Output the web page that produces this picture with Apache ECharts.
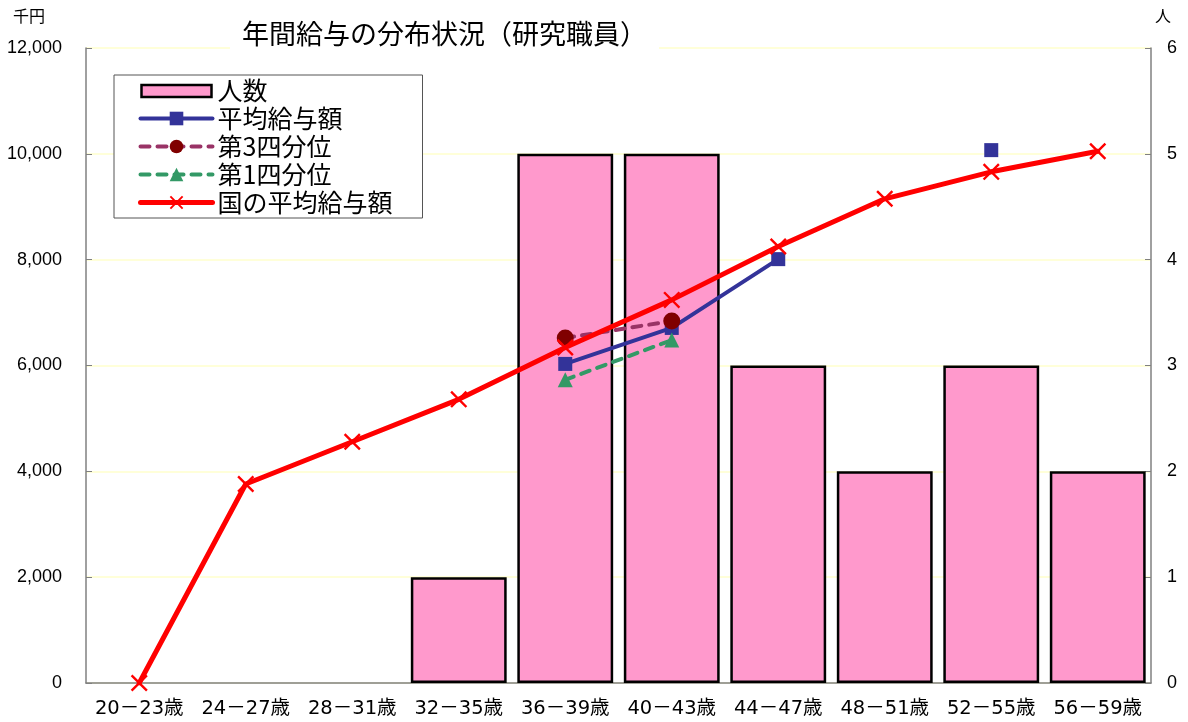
<!DOCTYPE html>
<html><head><meta charset="utf-8">
<script src="https://cdn.jsdelivr.net/npm/echarts@6/dist/echarts.min.js"></script>
<style>html,body{margin:0;padding:0;background:#fff}#c{width:1188px;height:722px}</style>
</head><body><div id="c"></div>
<script>
const categories = ['20－23歳','24－27歳','28－31歳','32－35歳','36－39歳','40－43歳','44－47歳','48－51歳','52－55歳','56－59歳'];
const headcount = [0,0,0,1,5,5,3,2,3,2];
const avgSalary = [null,null,null,null,6030,6710,8010,null,10070,null];
const q3Salary = [null,null,null,null,6520,6840,null,null,null,null];
const q1Salary = [null,null,null,null,5730,6480,null,null,null,null];
const nationalAvg = [0,3760,4560,5360,6340,7240,8250,9150,9660,10050];
const leftTicks = {min:0,max:12000,interval:2000};
const rightTicks = {min:0,max:6,interval:1};

const FONT = "'Liberation Sans','Noto Sans CJK JP',sans-serif";
const XFONT = "'DejaVu Sans','Noto Sans CJK JP',sans-serif";
const JFONT = "'Noto Sans CJK JP',sans-serif";
const X_PATH = 'path://M0,1L1,0L5,4L9,0L10,1L6,5L10,9L9,10L5,6L1,10L0,9L4,5Z';
const BAR_ICON = 'path://M0,0M72,17M1,3L71,3L71,15L1,15Z';

const chart = echarts.init(document.getElementById('c'), null, {renderer:'canvas'});
chart.setOption({
  animation:false,
  backgroundColor:'#fff',
  title:{
    text:'年間給与の分布状況（研究職員）',
    left:230, top:18,
    padding:[2,12,4,12],
    backgroundColor:'#fff',
    textStyle:{fontFamily:JFONT,fontSize:27,fontWeight:'normal',color:'#000'}
  },
  graphic:[
    {type:'text',left:13,top:8,style:{text:'千円',font:"16px "+JFONT,fill:'#000'}},
    {type:'text',left:1155,top:8,style:{text:'人',font:"16px "+JFONT,fill:'#000'}}
  ],
  legend:{
    orient:'vertical',
    left:114, top:75,
    padding:[3,30,3,24],
    itemGap:3,
    itemWidth:72, itemHeight:17,
    backgroundColor:'#fff',
    borderColor:'#555', borderWidth:1,
    textStyle:{fontFamily:JFONT,fontSize:25,color:'#000',lineHeight:25},
    data:[
      {name:'人数',icon:BAR_ICON,itemStyle:{color:'#ff99cc',borderColor:'#000',borderWidth:2.5}},
      {name:'平均給与額',lineStyle:{width:4}},
      {name:'第3四分位',lineStyle:{width:4}},
      {name:'第1四分位',lineStyle:{width:4}},
      {name:'国の平均給与額',lineStyle:{width:5}}
    ]
  },
  grid:{left:86,right:37,top:48,bottom:39,containLabel:false},
  xAxis:{
    type:'category',
    data:categories,
    boundaryGap:true,
    axisLine:{lineStyle:{color:'#808080',width:1.5}},
    axisTick:{inside:true,length:5,lineStyle:{color:'#808080'}},
    axisLabel:{interval:0,margin:16,fontFamily:XFONT,fontSize:19.5,color:'#000'}
  },
  yAxis:[
    {type:'value',min:leftTicks.min,max:leftTicks.max,interval:leftTicks.interval,position:'left',
     axisLine:{show:true,lineStyle:{color:'#808080',width:1.5}},
     axisTick:{show:true,inside:true,length:6,lineStyle:{color:'#808080'}},
     splitLine:{show:true,lineStyle:{color:'#ffffcc',width:1.5}},
     axisLabel:{margin:24,fontFamily:FONT,fontSize:18,color:'#000',
       formatter:v=>v.toLocaleString('en-US')}},
    {type:'value',min:rightTicks.min,max:rightTicks.max,interval:rightTicks.interval,position:'right',
     axisLine:{show:true,lineStyle:{color:'#808080',width:1.5}},
     axisTick:{show:true,inside:true,length:6,lineStyle:{color:'#808080'}},
     splitLine:{show:false},
     axisLabel:{margin:16,fontFamily:FONT,fontSize:18,color:'#000'}}
  ],
  series:[
    {name:'人数',type:'bar',yAxisIndex:1,data:headcount.map(v=>v===0?null:v),barCategoryGap:'10%',
     itemStyle:{color:'#ff99cc',borderColor:'#000',borderWidth:2.5},z:1},
    {name:'平均給与額',type:'line',data:avgSalary,connectNulls:false,
     symbol:'rect',symbolSize:14,showSymbol:true,
     lineStyle:{color:'#333399',width:4,cap:'round'},itemStyle:{color:'#333399'},z:3},
    {name:'第3四分位',type:'line',data:q3Salary,connectNulls:false,
     symbol:'circle',symbolSize:17,
     lineStyle:{color:'#993366',width:4,type:[9,8],cap:'round'},itemStyle:{color:'#800000'},z:4},
    {name:'第1四分位',type:'line',data:q1Salary,connectNulls:false,
     symbol:'triangle',symbolSize:15,
     lineStyle:{color:'#339966',width:4,type:[9,8],cap:'round'},itemStyle:{color:'#339966'},z:4},
    {name:'国の平均給与額',type:'line',data:nationalAvg,
     symbol:X_PATH,symbolSize:17,
     lineStyle:{color:'#ff0000',width:5,cap:'round'},itemStyle:{color:'#ff0000'},z:5}
  ]
});
</script></body></html>
